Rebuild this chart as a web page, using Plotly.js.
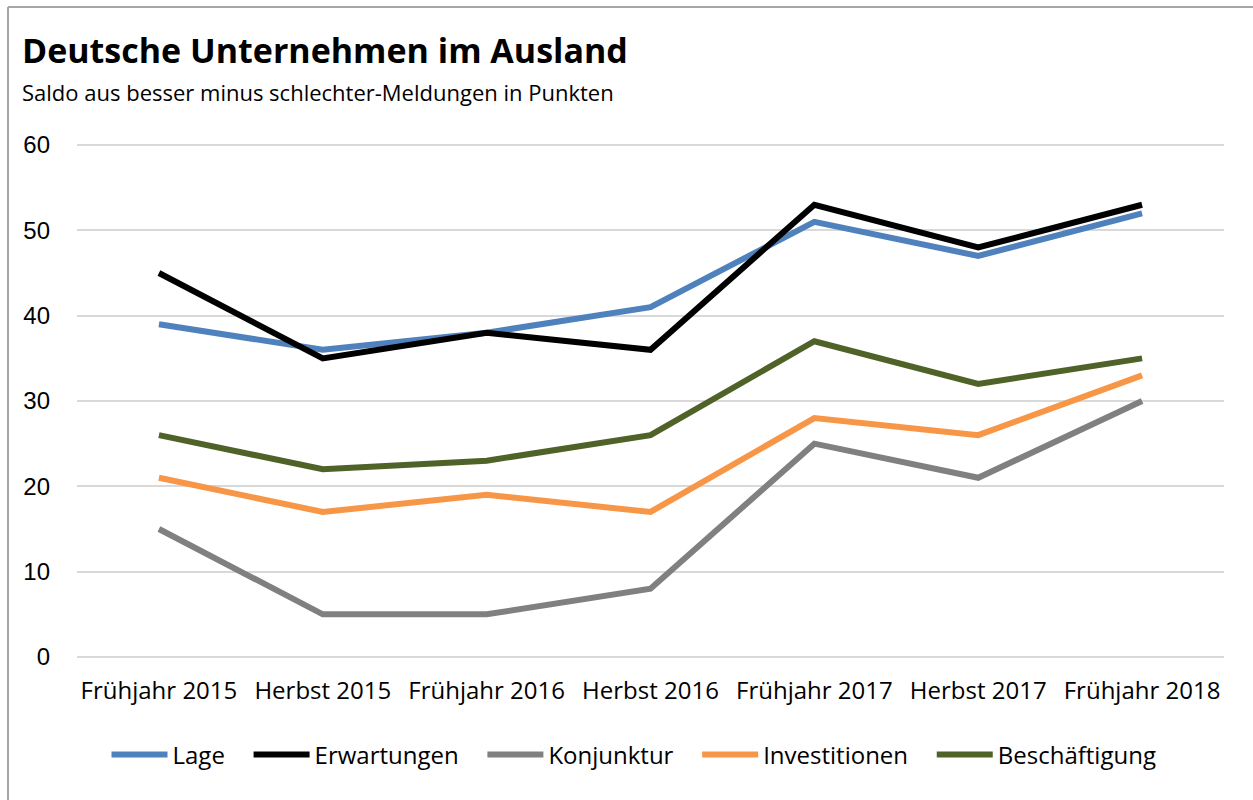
<!DOCTYPE html>
<html>
<head>
<meta charset="utf-8">
<script src="https://cdn.plot.ly/plotly-3.0.1.min.js"></script>
<style>html,body{margin:0;padding:0;background:#fff;}#chart{width:1253px;height:800px;}</style>
</head>
<body>
<div id="chart"></div>
<script>
const categories = ["Frühjahr 2015","Herbst 2015","Frühjahr 2016","Herbst 2016","Frühjahr 2017","Herbst 2017","Frühjahr 2018"];
const lage = [39, 36, 38, 41, 51, 47, 52];
const erwartungen = [45, 35, 38, 36, 53, 48, 53];
const konjunktur = [15, 5, 5, 8, 25, 21, 30];
const investitionen = [21, 17, 19, 17, 28, 26, 33];
const beschaeftigung = [26, 22, 23, 26, 37, 32, 35];
const seriesNames = ["Lage","Erwartungen","Konjunktur","Investitionen","Beschäftigung"];
const colors = ["#4F81BD","#000000","#808080","#F79646","#4F6228"];
const values = [lage, erwartungen, konjunktur, investitionen, beschaeftigung];

const FONT = "Open Sans, Noto Sans, sans-serif";
const PAD = "\u00a0\u00a0\u00a0";
const traces = values.map((v, i) => ({
  type: "scatter", mode: "lines", x: categories, y: v,
  name: i < values.length - 1 ? seriesNames[i] + PAD : seriesNames[i],
  line: {color: colors[i], width: 6}
}));

const W = 1253, H = 800, L = 77, R = 29, T = 144, B = 142;
const pw = W - L - R, ph = H - T - B;
const px = x => (x - L) / pw;
const py = y => (H - B - y) / ph;

const layout = {
  width: W, height: H,
  margin: {l: L, r: R, t: T, b: B, pad: 0},
  paper_bgcolor: "#fff", plot_bgcolor: "#fff",
  showlegend: true,
  legend: {orientation: "h", x: px(634), xanchor: "center", y: py(755), yanchor: "middle",
           font: {family: FONT, size: 24, color: "#000"}, itemwidth: 56, tracegroupgap: 0},
  xaxis: {type: "category", range: [-0.5, 6.5], showgrid: false, zeroline: false, showline: false,
          ticks: "", ticklabelstandoff: 16, tickfont: {family: FONT, size: 24, color: "#000"}, fixedrange: true},
  yaxis: {range: [-0.12, 60.12], dtick: 10, tick0: 0, showgrid: true, gridcolor: "#D9D9D9", gridwidth: 2,
          zeroline: false, showline: false, ticks: "", ticklabelstandoff: 26,
          tickfont: {family: "Liberation Sans, Arial, sans-serif", size: 24, color: "#000"}, fixedrange: true},
  annotations: [
    {xref: "paper", yref: "paper", x: px(20), y: py(50), xanchor: "left", yanchor: "middle", showarrow: false,
     text: "<b>Deutsche Unternehmen im Ausland</b>", font: {family: FONT, size: 34, color: "#000"}},
    {xref: "paper", yref: "paper", x: px(20), y: py(92), xanchor: "left", yanchor: "middle", showarrow: false,
     text: "Saldo aus besser minus schlechter-Meldungen in Punkten", font: {family: FONT, size: 22, color: "#000"}}
  ],
  shapes: [
    {type: "line", xref: "paper", yref: "paper", x0: px(8), x1: px(8), y0: py(7), y1: py(800), line: {color: "#A6A6A6", width: 2}},
    {type: "line", xref: "paper", yref: "paper", x0: px(8), x1: px(1253), y0: py(7), y1: py(7), line: {color: "#A6A6A6", width: 2}}
  ]
};
Plotly.newPlot("chart", traces, layout, {staticPlot: true});
</script>
</body>
</html>
